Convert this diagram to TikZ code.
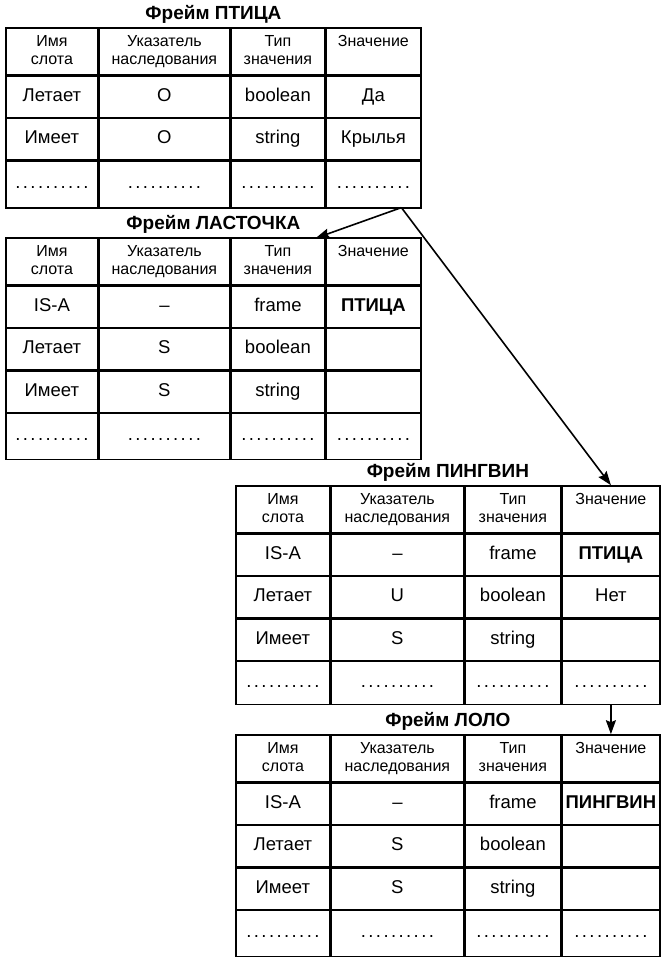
\documentclass[tikz,border=0pt]{standalone}
\usepackage{fontspec}
\setmainfont{Liberation Sans}
\usetikzlibrary{matrix, calc, positioning, arrows.meta}

\newcommand{\hdr}[2]{{\fontsize{16}{18}\selectfont\begin{tabular}{@{}c@{}}#1\\#2\end{tabular}}}
\newcommand{\dotrow}{\makebox[76pt]{\xleaders\hbox to 7pt{\hss.\hss}\hfill}}

\tikzset{
    frametab/.style n args={4}{matrix of nodes, nodes in empty cells,
        inner sep=0pt, anchor=north west,
        column sep=-\pgflinewidth, row sep=-\pgflinewidth,
        nodes={draw, line width=1.4pt, inner xsep=1pt, inner ysep=0pt,
            font=\fontsize{18.5}{20}\selectfont,
            minimum height=41.5pt, text height=13pt, text depth=4pt},
        row 1/.style={nodes={minimum height=47pt}},
        column 1/.style={nodes={minimum width=#1}},
        column 2/.style={nodes={minimum width=#2}},
        column 3/.style={nodes={minimum width=#3}},
        column 4/.style={nodes={minimum width=#4}}},
    frametitle/.style={font=\bfseries\fontsize{19}{21}\selectfont, inner sep=2pt},
    link/.style={-{Stealth[length=14pt, width=10pt, inset=2pt]}, line width=1.6pt}
}

\begin{document}
\begin{tikzpicture}[x=1pt, y=-1pt]
    \useasboundingbox (0,0) rectangle (664,960);

    % frame 1
    \matrix (ptica) [frametab={92pt}{131pt}{94pt}{95pt},
        row 4/.style={nodes={minimum height=47pt}}] at (5,27) {
        \hdr{Имя}{слота} & \hdr{Указатель}{наследования} & \hdr{Тип}{значения} & \hdr{Значение}{\mbox{}} \\
        Летает & O & boolean & Да \\
        Имеет & O & string & Крылья \\
        \dotrow & \dotrow & \dotrow & \dotrow \\
    };
    \node[frametitle, above=1pt of ptica] (ptica-title) {Фрейм ПТИЦА};

    % frame 2
    \matrix (lastochka) [frametab={92pt}{131pt}{94pt}{95pt},
        row 5/.style={nodes={minimum height=46pt}}] at (5,237) {
        \hdr{Имя}{слота} & \hdr{Указатель}{наследования} & \hdr{Тип}{значения} & \hdr{Значение}{\mbox{}} \\
        IS-A & -- & frame & \textbf{ПТИЦА} \\
        Летает & S & boolean & \\
        Имеет & S & string & \\
        \dotrow & \dotrow & \dotrow & \dotrow \\
    };
    \node[frametitle, above=1pt of lastochka] (lastochka-title) {Фрейм ЛАСТОЧКА};

    % frame 3
    \matrix (pingvin) [frametab={94pt}{133pt}{96pt}{98pt},
        row 5/.style={nodes={minimum height=43pt}}] at (235,485) {
        \hdr{Имя}{слота} & \hdr{Указатель}{наследования} & \hdr{Тип}{значения} & \hdr{Значение}{\mbox{}} \\
        IS-A & -- & frame & \textbf{ПТИЦА} \\
        Летает & U & boolean & Нет \\
        Имеет & S & string & \\
        \dotrow & \dotrow & \dotrow & \dotrow \\
    };
    \node[frametitle, above=1pt of pingvin] (pingvin-title) {Фрейм ПИНГВИН};

    % frame 4
    \matrix (lolo) [frametab={94pt}{133pt}{96pt}{98pt},
        row 5/.style={nodes={minimum height=46pt}}] at (235,734) {
        \hdr{Имя}{слота} & \hdr{Указатель}{наследования} & \hdr{Тип}{значения} & \hdr{Значение}{\mbox{}} \\
        IS-A & -- & frame & \textbf{ПИНГВИН} \\
        Летает & S & boolean & \\
        Имеет & S & string & \\
        \dotrow & \dotrow & \dotrow & \dotrow \\
    };
    \node[frametitle, above=1pt of lolo] (lolo-title) {Фрейм ЛОЛО};

    % inheritance links
    \coordinate (fork) at ($(ptica-4-4.south)+(28pt,1pt)$);
    \draw[link] (fork) -- ($(lastochka-1-3.north east)+(-10pt,-1pt)$);
    \draw[link] (fork) -- (pingvin-1-4.north);
    \draw[link] (pingvin-5-4.south) -- (lolo-1-4.north);
\end{tikzpicture}
\end{document}
